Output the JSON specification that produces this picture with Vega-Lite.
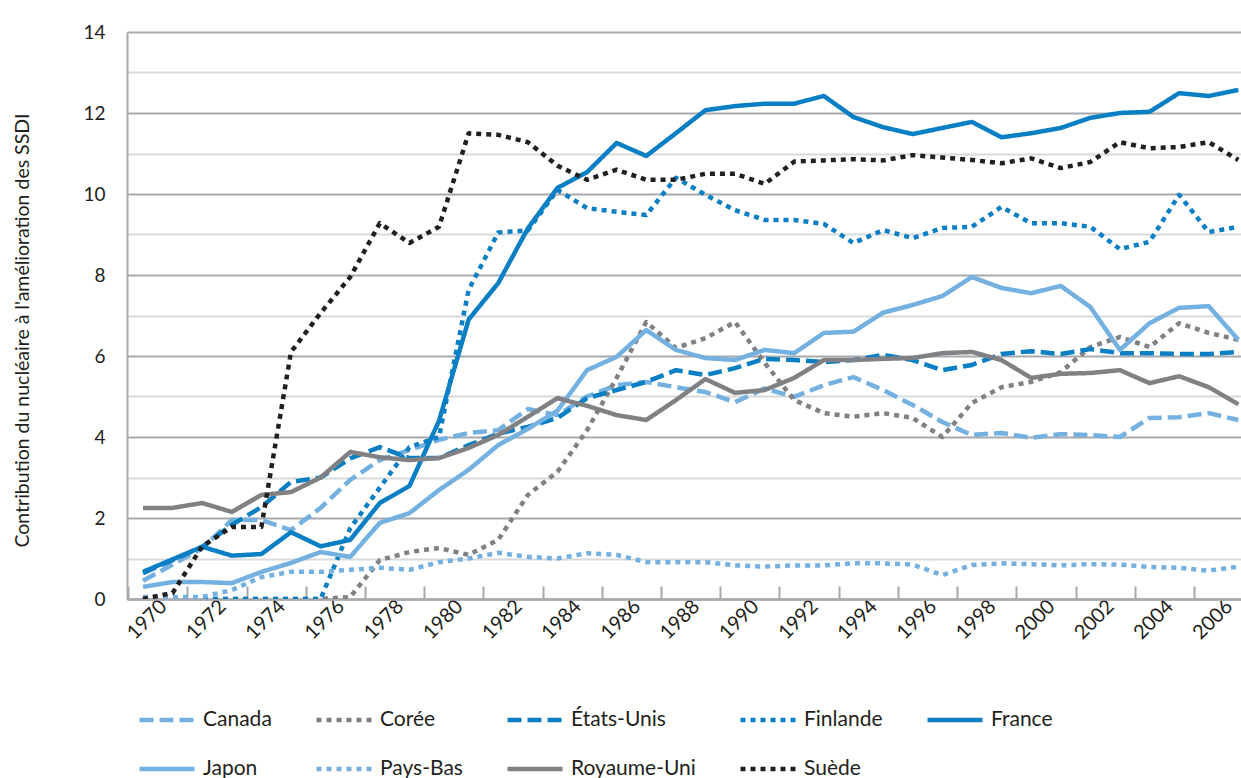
{
  "$schema": "https://vega.github.io/schema/vega-lite/v6.json",
  "width": 1114,
  "height": 567,
  "autosize": {"type": "none"},
  "padding": {"left": 127, "top": 32, "right": 0, "bottom": 179},
  "background": "white",
  "config": {
    "view": {"stroke": null},
    "font": "Lato",
    "legend": {
      "orient": "none",
      "legendX": 10,
      "legendY": 658,
      "direction": "horizontal",
      "columns": 5,
      "gridAlign": "each",
      "columnPadding": 35,
      "rowPadding": 9,
      "symbolType": "stroke",
      "symbolSize": 3025,
      "symbolStrokeWidth": 4.5,
      "labelFontSize": 21,
      "labelColor": "#231f20",
      "labelOffset": 6,
      "labelLimit": 300,
      "padding": 0
    }
  },
  "data": {
    "values": [
      {"annee": 1970, "Canada": 0.45, "Corée": 0, "États-Unis": 0.64, "Finlande": 0, "France": 0.67, "Japon": 0.3, "Pays-Bas": 0.05, "Royaume-Uni": 2.25, "Suède": 0},
      {"annee": 1971, "Canada": 0.85, "Corée": 0, "États-Unis": 0.96, "Finlande": 0, "France": 0.98, "Japon": 0.42, "Pays-Bas": 0.05, "Royaume-Uni": 2.25, "Suède": 0.15},
      {"annee": 1972, "Canada": 1.25, "Corée": 0, "États-Unis": 1.29, "Finlande": 0, "France": 1.29, "Japon": 0.42, "Pays-Bas": 0.05, "Royaume-Uni": 2.37, "Suède": 1.3},
      {"annee": 1973, "Canada": 1.95, "Corée": 0, "États-Unis": 1.83, "Finlande": 0, "France": 1.07, "Japon": 0.39, "Pays-Bas": 0.22, "Royaume-Uni": 2.15, "Suède": 1.78},
      {"annee": 1974, "Canada": 1.95, "Corée": 0, "États-Unis": 2.27, "Finlande": 0, "France": 1.11, "Japon": 0.67, "Pays-Bas": 0.54, "Royaume-Uni": 2.57, "Suède": 1.78},
      {"annee": 1975, "Canada": 1.7, "Corée": 0, "États-Unis": 2.89, "Finlande": 0, "France": 1.65, "Japon": 0.89, "Pays-Bas": 0.67, "Royaume-Uni": 2.64, "Suède": 6.1},
      {"annee": 1976, "Canada": 2.25, "Corée": 0, "États-Unis": 3.0, "Finlande": 0, "France": 1.3, "Japon": 1.16, "Pays-Bas": 0.67, "Royaume-Uni": 3.0, "Suède": 7.06},
      {"annee": 1977, "Canada": 2.94, "Corée": 0.05, "États-Unis": 3.47, "Finlande": 1.75, "France": 1.46, "Japon": 1.04, "Pays-Bas": 0.72, "Royaume-Uni": 3.63, "Suède": 7.95},
      {"annee": 1978, "Canada": 3.43, "Corée": 0.96, "États-Unis": 3.75, "Finlande": 2.75, "France": 2.37, "Japon": 1.88, "Pays-Bas": 0.77, "Royaume-Uni": 3.5, "Suède": 9.28},
      {"annee": 1979, "Canada": 3.68, "Corée": 1.16, "États-Unis": 3.48, "Finlande": 3.75, "France": 2.79, "Japon": 2.12, "Pays-Bas": 0.72, "Royaume-Uni": 3.43, "Suède": 8.79},
      {"annee": 1980, "Canada": 3.93, "Corée": 1.26, "États-Unis": 3.48, "Finlande": 4.0, "France": 4.4, "Japon": 2.69, "Pays-Bas": 0.91, "Royaume-Uni": 3.48, "Suède": 9.19},
      {"annee": 1981, "Canada": 4.1, "Corée": 1.09, "États-Unis": 3.8, "Finlande": 7.63, "France": 6.9, "Japon": 3.19, "Pays-Bas": 1.0, "Royaume-Uni": 3.73, "Suède": 11.5},
      {"annee": 1982, "Canada": 4.17, "Corée": 1.46, "États-Unis": 4.08, "Finlande": 9.05, "France": 7.8, "Japon": 3.8, "Pays-Bas": 1.14, "Royaume-Uni": 4.05, "Suède": 11.46},
      {"annee": 1983, "Canada": 4.69, "Corée": 2.57, "États-Unis": 4.25, "Finlande": 9.1, "France": 9.15, "Japon": 4.2, "Pays-Bas": 1.04, "Royaume-Uni": 4.5, "Suède": 11.28},
      {"annee": 1984, "Canada": 4.54, "Corée": 3.14, "États-Unis": 4.47, "Finlande": 10.1, "France": 10.15, "Japon": 4.65, "Pays-Bas": 1.0, "Royaume-Uni": 4.96, "Suède": 10.7},
      {"annee": 1985, "Canada": 5.0, "Corée": 4.17, "États-Unis": 4.96, "Finlande": 9.65, "France": 10.54, "Japon": 5.65, "Pays-Bas": 1.13, "Royaume-Uni": 4.77, "Suède": 10.35},
      {"annee": 1986, "Canada": 5.28, "Corée": 5.46, "États-Unis": 5.16, "Finlande": 9.56, "France": 11.26, "Japon": 5.98, "Pays-Bas": 1.09, "Royaume-Uni": 4.54, "Suède": 10.6},
      {"annee": 1987, "Canada": 5.36, "Corée": 6.84, "États-Unis": 5.36, "Finlande": 9.48, "France": 10.94, "Japon": 6.64, "Pays-Bas": 0.91, "Royaume-Uni": 4.42, "Suède": 10.35},
      {"annee": 1988, "Canada": 5.23, "Corée": 6.2, "États-Unis": 5.65, "Finlande": 10.4, "France": 11.5, "Japon": 6.15, "Pays-Bas": 0.91, "Royaume-Uni": 4.91, "Suède": 10.35},
      {"annee": 1989, "Canada": 5.11, "Corée": 6.44, "États-Unis": 5.53, "Finlande": 9.98, "France": 12.07, "Japon": 5.95, "Pays-Bas": 0.91, "Royaume-Uni": 5.43, "Suède": 10.5},
      {"annee": 1990, "Canada": 4.86, "Corée": 6.84, "États-Unis": 5.7, "Finlande": 9.6, "France": 12.17, "Japon": 5.9, "Pays-Bas": 0.83, "Royaume-Uni": 5.09, "Suède": 10.5},
      {"annee": 1991, "Canada": 5.2, "Corée": 5.83, "États-Unis": 5.93, "Finlande": 9.36, "France": 12.23, "Japon": 6.15, "Pays-Bas": 0.8, "Royaume-Uni": 5.16, "Suède": 10.25},
      {"annee": 1992, "Canada": 4.99, "Corée": 4.91, "États-Unis": 5.9, "Finlande": 9.36, "France": 12.23, "Japon": 6.07, "Pays-Bas": 0.83, "Royaume-Uni": 5.46, "Suède": 10.8},
      {"annee": 1993, "Canada": 5.28, "Corée": 4.59, "États-Unis": 5.85, "Finlande": 9.26, "France": 12.42, "Japon": 6.57, "Pays-Bas": 0.83, "Royaume-Uni": 5.9, "Suède": 10.83},
      {"annee": 1994, "Canada": 5.48, "Corée": 4.5, "États-Unis": 5.9, "Finlande": 8.79, "France": 11.9, "Japon": 6.6, "Pays-Bas": 0.88, "Royaume-Uni": 5.9, "Suède": 10.86},
      {"annee": 1995, "Canada": 5.16, "Corée": 4.59, "États-Unis": 6.03, "Finlande": 9.11, "France": 11.65, "Japon": 7.07, "Pays-Bas": 0.88, "Royaume-Uni": 5.93, "Suède": 10.83},
      {"annee": 1996, "Canada": 4.79, "Corée": 4.47, "États-Unis": 5.9, "Finlande": 8.91, "France": 11.48, "Japon": 7.26, "Pays-Bas": 0.85, "Royaume-Uni": 5.95, "Suède": 10.96},
      {"annee": 1997, "Canada": 4.37, "Corée": 4.0, "États-Unis": 5.65, "Finlande": 9.16, "France": 11.63, "Japon": 7.48, "Pays-Bas": 0.59, "Royaume-Uni": 6.07, "Suède": 10.9},
      {"annee": 1998, "Canada": 4.05, "Corée": 4.84, "États-Unis": 5.78, "Finlande": 9.19, "France": 11.78, "Japon": 7.95, "Pays-Bas": 0.84, "Royaume-Uni": 6.1, "Suède": 10.84},
      {"annee": 1999, "Canada": 4.1, "Corée": 5.23, "États-Unis": 6.05, "Finlande": 9.68, "France": 11.4, "Japon": 7.68, "Pays-Bas": 0.88, "Royaume-Uni": 5.9, "Suède": 10.76},
      {"annee": 2000, "Canada": 3.98, "Corée": 5.36, "États-Unis": 6.12, "Finlande": 9.28, "France": 11.5, "Japon": 7.55, "Pays-Bas": 0.86, "Royaume-Uni": 5.46, "Suède": 10.88},
      {"annee": 2001, "Canada": 4.07, "Corée": 5.6, "États-Unis": 6.05, "Finlande": 9.28, "France": 11.63, "Japon": 7.73, "Pays-Bas": 0.83, "Royaume-Uni": 5.56, "Suède": 10.64},
      {"annee": 2002, "Canada": 4.05, "Corée": 6.22, "États-Unis": 6.17, "Finlande": 9.19, "France": 11.88, "Japon": 7.21, "Pays-Bas": 0.86, "Royaume-Uni": 5.58, "Suède": 10.79},
      {"annee": 2003, "Canada": 4.0, "Corée": 6.47, "États-Unis": 6.07, "Finlande": 8.64, "France": 12.0, "Japon": 6.15, "Pays-Bas": 0.85, "Royaume-Uni": 5.65, "Suède": 11.28},
      {"annee": 2004, "Canada": 4.47, "Corée": 6.22, "États-Unis": 6.07, "Finlande": 8.82, "France": 12.03, "Japon": 6.81, "Pays-Bas": 0.79, "Royaume-Uni": 5.33, "Suède": 11.13},
      {"annee": 2005, "Canada": 4.49, "Corée": 6.81, "États-Unis": 6.05, "Finlande": 9.98, "France": 12.49, "Japon": 7.19, "Pays-Bas": 0.77, "Royaume-Uni": 5.5, "Suède": 11.16},
      {"annee": 2006, "Canada": 4.59, "Corée": 6.57, "États-Unis": 6.05, "Finlande": 9.06, "France": 12.42, "Japon": 7.23, "Pays-Bas": 0.7, "Royaume-Uni": 5.23, "Suède": 11.28},
      {"annee": 2007, "Canada": 4.42, "Corée": 6.4, "États-Unis": 6.1, "Finlande": 9.19, "France": 12.57, "Japon": 6.4, "Pays-Bas": 0.8, "Royaume-Uni": 4.81, "Suède": 10.84}
    ]
  },
  "transform": [
    {"fold": ["Canada", "Corée", "États-Unis", "Finlande", "France", "Japon", "Pays-Bas", "Royaume-Uni", "Suède"], "as": ["pays", "valeur"]}
  ],
  "mark": {"type": "line", "strokeWidth": 4.5, "strokeCap": "butt", "strokeJoin": "round", "clip": true},
  "encoding": {
    "x": {
      "field": "annee",
      "type": "quantitative",
      "scale": {"domain": [1969.46, 2007.09], "nice": false, "zero": false},
      "axis": {
        "values": [1970, 1972, 1974, 1976, 1978, 1980, 1982, 1984, 1986, 1988, 1990, 1992, 1994, 1996, 1998, 2000, 2002, 2004, 2006],
        "format": "d",
        "title": null,
        "grid": false,
        "labelAngle": -45,
        "labelAlign": "right",
        "labelBaseline": "middle",
        "labelFontSize": 20,
        "labelColor": "#231f20",
        "labelPadding": 17,
        "tickOffset": -14.8,
        "labelOffset": 35,
        "ticks": true,
        "tickSize": -13,
        "tickWidth": 2,
        "tickColor": "#a7a9ac",
        "domainColor": "#a7a9ac",
        "domainWidth": 2.5
      }
    },
    "y": {
      "field": "valeur",
      "type": "quantitative",
      "scale": {"domain": [0, 14], "nice": false},
      "axis": {
        "values": [0, 1, 2, 3, 4, 5, 6, 7, 8, 9, 10, 11, 12, 13, 14],
        "labelExpr": "datum.value % 2 === 0 ? datum.label : ''",
        "grid": true,
        "gridColor": {"condition": {"test": "datum.value % 2 === 0", "value": "#a7a9ac"}, "value": "#d8d9da"},
        "gridWidth": 2,
        "ticks": false,
        "domainColor": "#a7a9ac",
        "domainWidth": 2,
        "labelFontSize": 19,
        "labelColor": "#231f20",
        "labelPadding": 22,
        "title": "Contribution du nucléaire à l'amélioration des SSDI",
        "titleFontSize": 19.5,
        "titleFontWeight": "normal",
        "titleColor": "#231f20",
        "titleX": -105,
        "titleY": 298,
        "titleAngle": -90,
        "titleAlign": "center",
        "titleBaseline": "middle"
      }
    },
    "color": {
      "field": "pays",
      "type": "nominal",
      "scale": {
        "domain": ["Canada", "Corée", "États-Unis", "Finlande", "France", "Japon", "Pays-Bas", "Royaume-Uni", "Suède"],
        "range": ["#74b1e0", "#808184", "#0a7fc4", "#0a7fc4", "#0a7fc4", "#74b1e0", "#74b1e0", "#808184", "#231f20"]
      },
      "legend": {"title": null}
    },
    "strokeDash": {
      "field": "pays",
      "type": "nominal",
      "scale": {
        "domain": ["Canada", "Corée", "États-Unis", "Finlande", "France", "Japon", "Pays-Bas", "Royaume-Uni", "Suède"],
        "range": [[14, 6], [5, 5], [14, 6], [5, 5], [1, 0], [1, 0], [5, 5], [1, 0], [5, 5]]
      },
      "legend": {"title": null}
    }
  }
}
